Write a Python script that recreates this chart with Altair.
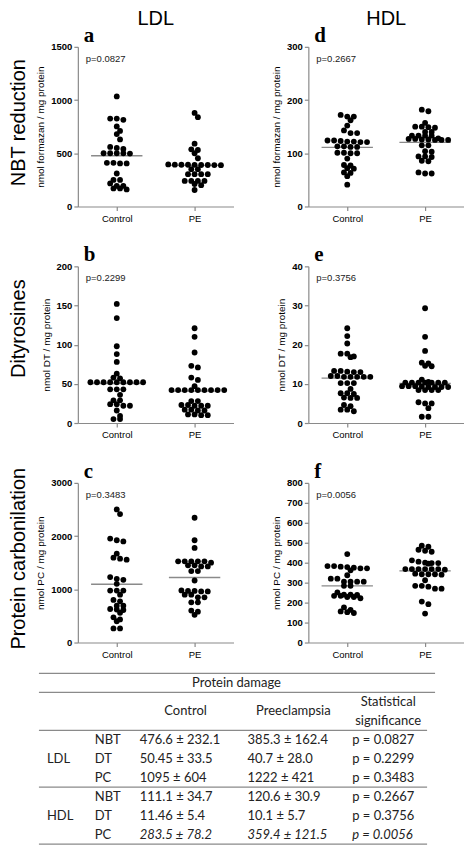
import altair as alt
import pandas as pd

# ---------------- data ----------------
nbt_ldl_control = [1034, 826, 814, 826, 752, 710, 680, 630, 550, 560, 540, 500, 500, 497, 500, 500,
                   410, 405, 410, 405, 310, 250, 250, 217, 193, 193, 170, 160, 170]
nbt_ldl_pe = [879, 839, 590, 537, 531, 500, 453, 395, 390, 392, 388, 391, 393, 389, 390, 392,
              351, 351, 304, 304, 304, 304, 240, 240, 240, 240, 211, 200, 155]
nbt_hdl_control = [172, 169, 169, 162, 152, 143, 138, 138, 124, 123, 122, 121, 121, 122, 124,
                   113, 113, 112, 112, 101, 100, 100, 101, 90, 78, 77, 72, 71, 63, 64, 57, 41]
nbt_hdl_pe = [182, 179, 157, 150, 149, 148, 150, 140, 140, 133, 133, 133, 133, 127, 126, 125, 125,
              125, 126, 127, 128, 115, 115, 104, 103, 94, 93, 94, 86, 85, 64, 62, 62]
dt_ldl_control = [152, 134, 98, 88, 78, 63, 58, 57, 52, 52, 52, 52, 52, 52, 52, 52, 52, 43, 43, 43,
                  36, 29, 29, 24, 22, 22, 24, 16, 9, 5, 5]
dt_ldl_pe = [121, 110, 90, 73, 71, 58, 55, 47, 42, 42, 42, 42, 42, 42, 42, 42, 42, 28, 28, 23, 22,
             22, 22, 23, 17, 17, 16, 16, 11, 10, 10, 11]
dt_hdl_control = [24.2, 22.2, 20.3, 17.7, 17.7, 16.8, 17.0, 13.3, 13.1, 13.0, 13.0, 13.3, 12.0, 11.8,
                  11.8, 11.8, 11.8, 11.8, 12.0, 10.2, 10.2, 10.2, 8.7, 7.6, 7.6, 7.4, 6.5, 6.4, 6.4,
                  4.3, 4.6, 3.4, 3.4, 3.0]
dt_hdl_pe = [29.3, 22.0, 18.4, 15.4, 15.2, 14.5, 14.6, 11.1, 10.3, 10.3, 10.3, 10.3, 10.3, 10.3, 10.3,
             10.5, 9.4, 9.2, 9.2, 9.2, 9.2, 9.3, 9.4, 9.4, 8.4, 8.4, 8.4, 8.4, 5.3, 5.0, 5.0, 3.8,
             1.6, 1.6]
pc_ldl_control = [2502, 2414, 1954, 1922, 1900, 1670, 1595, 1576, 1557, 1230, 1197, 1178, 1103, 977,
                  977, 977, 900, 800, 775, 693, 693, 630, 611, 473, 435, 265, 265, 620, 560, 400]
pc_ldl_pe = [2345, 1922, 1777, 1525, 1525, 1525, 1525, 1525, 1500, 1450, 1430, 1430, 1450, 1342,
             1342, 1166, 980, 970, 960, 960, 970, 900, 900, 850, 850, 756, 756, 600, 580, 520]
pc_hdl_control = [443, 383, 380, 375, 372, 362, 372, 378, 383, 337, 320, 320, 305, 305, 305, 305,
                  284, 284, 251, 240, 238, 234, 228, 222, 228, 234, 240, 164, 156, 148, 152, 176]
pc_hdl_pe = [485, 480, 465, 460, 455, 412, 400, 398, 395, 398, 405, 368, 368, 368, 368, 368, 368,
             365, 342, 342, 340, 342, 345, 312, 284, 284, 280, 270, 270, 205, 192, 145]

means_control = [476.6, 50.45, 1095, 111.1, 11.46, 283.5]
means_pe = [385.3, 40.7, 1222, 120.6, 10.1, 359.4]
p_values = ["0.0827", "0.2299", "0.3483", "0.2667", "0.3756", "0.0056"]
letters = ["a", "b", "c", "d", "e", "f"]
y_max = [1500, 200, 3000, 300, 40, 800]
y_ticks = [[0, 500, 1000, 1500], [0, 50, 100, 150, 200], [0, 1000, 2000, 3000],
           [0, 100, 200, 300], [0, 10, 20, 30, 40], [0, 100, 200, 300, 400, 500, 600, 700, 800]]
y_titles = ["nmol formazan / mg protein", "nmol DT / mg protein", "nmol PC / mg protein"] * 2
row_titles = ["NBT reduction", "Dityrosines", "Protein carbonilation"]
col_titles = ["LDL", "HDL"]
group_labels = ["Control", "PE"]

tbl_measures = ["NBT", "DT", "PC", "NBT", "DT", "PC"]
tbl_control = ["476.6 ± 232.1", "50.45 ± 33.5", "1095 ± 604", "111.1 ± 34.7", "11.46 ± 5.4", "283.5 ± 78.2"]
tbl_pe = ["385.3 ± 162.4", "40.7 ± 28.0", "1222 ± 421", "120.6 ± 30.9", "10.1 ± 5.7", "359.4 ± 121.5"]
tbl_p = ["p = 0.0827", "p = 0.2299", "p = 0.3483", "p = 0.2667", "p = 0.3756", "p = 0.0056"]
tbl_groups = ["LDL", "HDL"]
tbl_header = ["Protein damage", "Control", "Preeclampsia", "Statistical", "significance"]

series = [
    (nbt_ldl_control, nbt_ldl_pe), (dt_ldl_control, dt_ldl_pe), (pc_ldl_control, pc_ldl_pe),
    (nbt_hdl_control, nbt_hdl_pe), (dt_hdl_control, dt_hdl_pe), (pc_hdl_control, pc_hdl_pe),
]

# ---------------- layout helpers ----------------
W = 156
ROW_H = [160, 157, 160]
ROW_TITLE_SHIFT = [-4, -16, -4]
SANS = "Liberation Sans"
GRAY = "#8a8a8a"


def swarm(values, gidx, ymax, h, w, t=3.0, d=6.0, spacing=6.6):
    """Row-binned dot-plot layout (GraphPad-like), neighbouring rows staggered."""
    ppu_y = h / ymax
    ppu_x = w / 2.0
    order = sorted(range(len(values)), key=lambda i: -values[i])
    rows, cur, start = [], [], None
    for i in order:
        py = values[i] * ppu_y
        if cur and start - py > t:
            rows.append((start, cur))
            cur = []
        if not cur:
            start = py
        cur.append(i)
    rows.append((start, cur))
    xs = [0.0] * len(values)
    prev = None
    for start, r in rows:
        n = len(r)
        shift = 0.0
        if prev is not None and prev[0] - start < d and (prev[1] % 2) == (n % 2) and prev[2] == 0.0:
            shift = 0.5
        for k, i in enumerate(r):
            xs[i] = gidx + ((k - (n - 1) / 2.0) + shift) * spacing / ppu_x
        prev = (start, n, shift)
    return xs


def panel(k, h):
    ctrl, pe = series[k]
    ymax = y_max[k]
    xs = swarm(ctrl, 0, ymax, h, W) + swarm(pe, 1, ymax, h, W)
    df = pd.DataFrame({"x": xs, "v": ctrl + pe})
    xsc = alt.Scale(domain=[-0.5, 1.5], nice=False, zero=False)
    ysc = alt.Scale(domain=[0, ymax], nice=False)
    xax = alt.Axis(values=[0, 1], labelExpr="datum.value == 0 ? '%s' : '%s'" % tuple(group_labels),
                   title=None, labelFontSize=9.5, labelFontWeight="normal", labelPadding=3)
    yax = alt.Axis(values=y_ticks[k], title=y_titles[k], labelFontSize=9.5, labelFontWeight="bold",
                   titleFontSize=10, titlePadding=5, format="d", labelPadding=2)
    pts = alt.Chart(df).mark_circle(size=34, color="black", opacity=1).encode(
        x=alt.X("x:Q", scale=xsc, axis=xax), y=alt.Y("v:Q", scale=ysc, axis=yax))
    mdf = pd.DataFrame({"g": [0, 1], "m": [means_control[k], means_pe[k]]})
    rules = alt.Chart(mdf).transform_calculate(lo="datum.g - 0.33", hi="datum.g + 0.33").mark_rule(
        color=GRAY, strokeWidth=1.3).encode(
        x=alt.X("lo:Q", scale=xsc, axis=xax), x2="hi:Q", y=alt.Y("m:Q", scale=ysc, axis=yax))
    ptxt = alt.Chart(pd.DataFrame({"t": ["p=" + p_values[k]]})).mark_text(
        align="left", baseline="alphabetic", font=SANS, fontSize=9.5, color="#222").encode(
        x=alt.value(8), y=alt.value(15), text="t:N")
    letter = alt.Chart(pd.DataFrame({"t": [letters[k]]})).mark_text(
        align="left", baseline="alphabetic", font="Liberation Serif", fontWeight="bold",
        fontSize=21, color="black").encode(x=alt.value(6), y=alt.value(-5), text="t:N")
    layers = [rules, pts, ptxt, letter]
    if k < 3:  # left column: row title
        layers.append(alt.Chart(pd.DataFrame({"t": [row_titles[k]]})).mark_text(
            angle=270, align="center", baseline="middle", font=SANS, fontSize=20, color="black").encode(
            x=alt.value(-59), y=alt.value(h / 2 + ROW_TITLE_SHIFT[k]), text="t:N"))
    if k % 3 == 0:  # top row: column title
        layers.append(alt.Chart(pd.DataFrame({"t": [col_titles[k // 3]]})).mark_text(
            align="center", baseline="alphabetic", font=SANS, fontSize=20, color="black").encode(
            x=alt.value(W / 2), y=alt.value(-22), text="t:N"))
    return alt.layer(*layers).properties(width=W, height=h)


# ---------------- table ----------------
TFONT = "Lato"
TSIZE = 13
TROW = 19
T_TOP = -29  # table top rule, relative to the grid cell
ysc_t = alt.Scale(domain=[0, 9], range=[T_TOP, T_TOP + 9 * TROW], nice=False, zero=False)
row_y = [3.5, 4.5, 5.5, 6.5, 7.5, 8.5]


def tcol(texts, ys, x, align="left", italic_last=False):
    layers = []
    df = pd.DataFrame({"t": texts, "row": ys})
    if italic_last:
        parts = [(df.iloc[:-1], "normal"), (df.iloc[-1:], "italic")]
    else:
        parts = [(df, "normal")]
    for d, st in parts:
        layers.append(alt.Chart(d).mark_text(
            align=align, baseline="middle", font=TFONT, fontSize=TSIZE, color="#222",
            fontStyle=st).encode(x=alt.value(x), y=alt.Y("row:Q", scale=ysc_t, axis=None),
                                 text="t:N"))
    return layers


tl = []
tl += tcol(tbl_groups, [4.5, 7.5], -31)
tl += tcol(tbl_measures, row_y, 17)
tl += tcol(tbl_control, row_y, 62, italic_last=True)
tl += tcol(tbl_pe, row_y, 170, italic_last=True)
tl += tcol(tbl_p, row_y, 275, italic_last=True)
tl += tcol([tbl_header[0]], [0.5], 159, align="center")
tl += tcol([tbl_header[1]], [2.0], 108, align="center")
tl += tcol([tbl_header[2]], [2.0], 216, align="center")
tl += tcol(tbl_header[3:], [1.5, 2.5], 311, align="center")

rules_top = alt.Chart(pd.DataFrame({"row": [0, 1]})).mark_rule(color=GRAY, strokeWidth=1.2).encode(
    x=alt.value(-39), x2=alt.value(358), y=alt.Y("row:Q", scale=ysc_t, axis=None))
rules_low = alt.Chart(pd.DataFrame({"row": [3, 6, 9]})).mark_rule(color=GRAY, strokeWidth=1.2).encode(
    x=alt.value(-39), x2=alt.value(350), y=alt.Y("row:Q", scale=ysc_t, axis=None))

table = alt.layer(rules_top, rules_low, *tl).properties(width=W, height=120)

cells = []
for r in range(3):
    cells.append(panel(r, ROW_H[r]))
    cells.append(panel(r + 3, ROW_H[r]))
cells.append(table)

chart = alt.concat(*cells, columns=2, spacing={"row": 60, "column": 75}, bounds="flush").properties(
    padding={"left": 0, "top": 0, "right": 0, "bottom": 0}
).configure_view(stroke=None).configure_axis(
    domainColor=GRAY, tickColor=GRAY, grid=False, labelFont=SANS, titleFont=SANS,
    labelColor="black", titleColor="black", titleFontWeight="normal", tickSize=4,
    domainWidth=1.2, tickWidth=1.2
).configure_title(font=SANS, color="black")

chart.save("out.html", embed_options={"renderer": "svg", "actions": False})
